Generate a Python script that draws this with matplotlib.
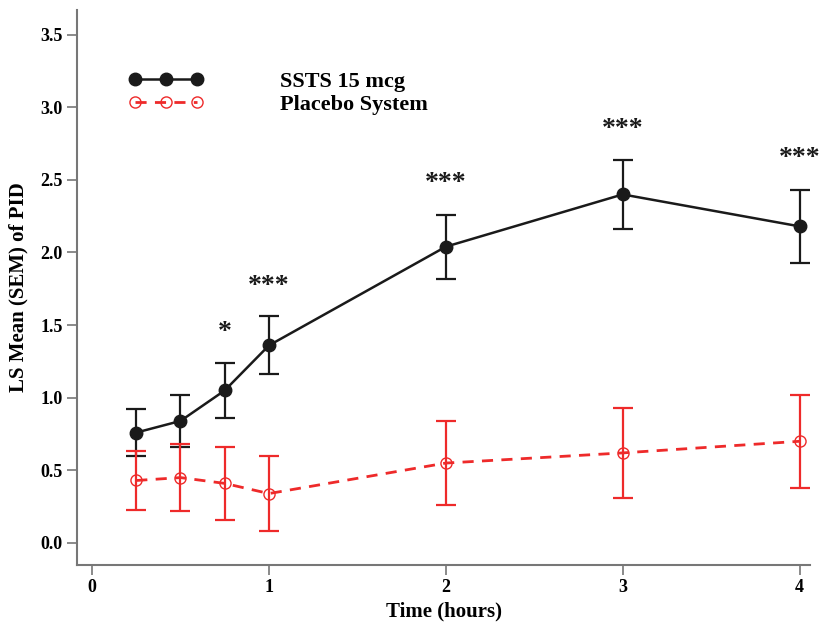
import matplotlib
matplotlib.use('Agg')
import matplotlib.pyplot as plt
from matplotlib.lines import Line2D

plt.rcParams['font.family'] = ['Liberation Serif', 'DejaVu Serif']
plt.rcParams['font.weight'] = 'bold'

# datos
horas = [0.25, 0.5, 0.75, 1, 2, 3, 4]
ssts_media = [0.76, 0.84, 1.05, 1.36, 2.04, 2.40, 2.18]
ssts_sem = [0.16, 0.18, 0.19, 0.20, 0.22, 0.24, 0.25]
placebo_media = [0.43, 0.45, 0.41, 0.34, 0.55, 0.62, 0.70]
placebo_sem = [0.20, 0.23, 0.25, 0.26, 0.29, 0.31, 0.32]
signif_horas = [0.75, 1, 2, 3, 4]
signif_texto = ['*', '***', '***', '***', '***']
signif_y = [1.36, 1.68, 2.39, 2.76, 2.56]

negro = '#1a1a1a'
rojo = '#ee2a2a'

fig = plt.figure(figsize=(8.37, 6.24), dpi=100)
ax = fig.add_axes([0.092, 0.095, 0.876, 0.889])

ax.errorbar(horas, ssts_media, yerr=ssts_sem, color=negro, marker='o',
            markersize=9, linewidth=1.8, capsize=7, elinewidth=1.6,
            capthick=1.6)
ax.errorbar(horas, placebo_media, yerr=placebo_sem, color=rojo, marker='o',
            markersize=8, markerfacecolor='none', linestyle='--', dashes=(4, 3),
            linewidth=2.0, capsize=7, elinewidth=1.6, capthick=1.6)

for xh, t, yh in zip(signif_horas, signif_texto, signif_y):
    ax.text(xh, yh, t, ha='center', va='bottom', fontsize=20, color=negro)

ax.set_xlim(-0.085, 4.06)
ax.set_ylim(-0.15, 3.67)
ax.set_xticks([0, 1, 2, 3, 4])
ax.set_yticks([0.0, 0.5, 1.0, 1.5, 2.0, 2.5, 3.0, 3.5])
ax.set_yticklabels(['0.0', '0.5', '1.0', '1.5', '2.0', '2.5', '3.0', '3.5'])
ax.tick_params(labelsize=13, color='#777777', length=7, width=1.2)
for lab in ax.get_xticklabels() + ax.get_yticklabels():
    lab.set_fontweight('bold')

ax.spines['top'].set_visible(False)
ax.spines['right'].set_visible(False)
ax.spines['left'].set_color('#777777')
ax.spines['bottom'].set_color('#777777')
ax.spines['left'].set_linewidth(1.5)
ax.spines['bottom'].set_linewidth(1.5)

ax.set_xlabel('Time (hours)', fontsize=15, fontweight='bold', labelpad=4)
ax.set_ylabel('LS Mean (SEM) of PID', fontsize=15, fontweight='bold', labelpad=8)

handles = [
    Line2D([], [], color=negro, marker='o', markersize=9, linewidth=1.8),
    Line2D([], [], color=rojo, marker='o', markersize=8, markerfacecolor='none',
           linestyle='--', dashes=(4, 3), linewidth=2.0),
]
ax.legend(handles, ['SSTS 15 mcg', 'Placebo System'], loc='upper left',
          bbox_to_anchor=(0.043, 0.925), numpoints=3, handlelength=3.4,
          handletextpad=3.4, frameon=False,
          prop={'size': 16, 'weight': 'bold'}, labelspacing=0.1)

fig.savefig('out.png', dpi=100)
